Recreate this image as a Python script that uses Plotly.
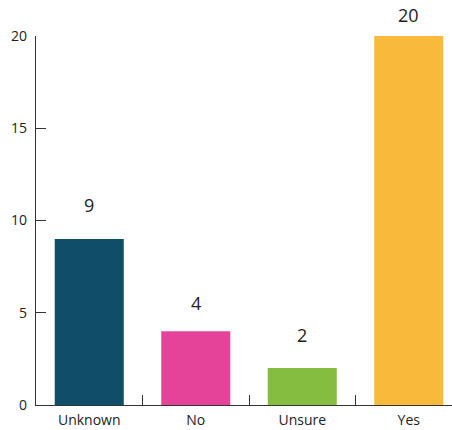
import plotly.graph_objects as go

# Survey responses
categories = ["Unknown", "No", "Unsure", "Yes"]
counts = [9, 4, 2, 20]
bar_colors = ["#0f4d68", "#e5439a", "#84bd3f", "#f9b93b"]
label_gap = [26, 20, 25, 13]  # px between bar top and its value label
y_ticks = [0, 5, 10, 15, 20]

font_family = "Open Sans, Inter, sans-serif"

fig = go.Figure(
    go.Bar(
        x=categories,
        y=counts,
        marker=dict(color=bar_colors, line=dict(width=0)),
        width=0.648,
        hoverinfo="skip",
    )
)

for cat, val, gap in zip(categories, counts, label_gap):
    fig.add_annotation(
        x=cat, y=val, text=str(val), showarrow=False,
        yanchor="bottom", yshift=gap - 6,
        font=dict(family=font_family, size=18, color="#222222"),
    )

fig.update_layout(
    width=452, height=430,
    margin=dict(l=36, r=0, t=36, b=25),
    paper_bgcolor="white", plot_bgcolor="white",
    showlegend=False,
    font=dict(family=font_family, size=14, color="#222222"),
    xaxis=dict(
        range=[-0.5, 3.406],
        automargin=False,
        showline=True, linecolor="#333333", linewidth=1.2,
        ticks="inside", tickson="boundaries", ticklen=10,
        tickcolor="#333333", tickwidth=1.2,
        showgrid=False, zeroline=False,
        ticklabelstandoff=2,
        tickfont=dict(size=14),
    ),
    yaxis=dict(
        range=[0, 20],
        automargin=False,
        tickvals=y_ticks,
        showline=True, linecolor="#333333", linewidth=1.2,
        ticks="inside", ticklen=10, tickcolor="#333333", tickwidth=1.2,
        showgrid=False, zeroline=False,
        ticklabelstandoff=5,
        tickfont=dict(size=14),
    ),
)

fig.write_html("out.html")
